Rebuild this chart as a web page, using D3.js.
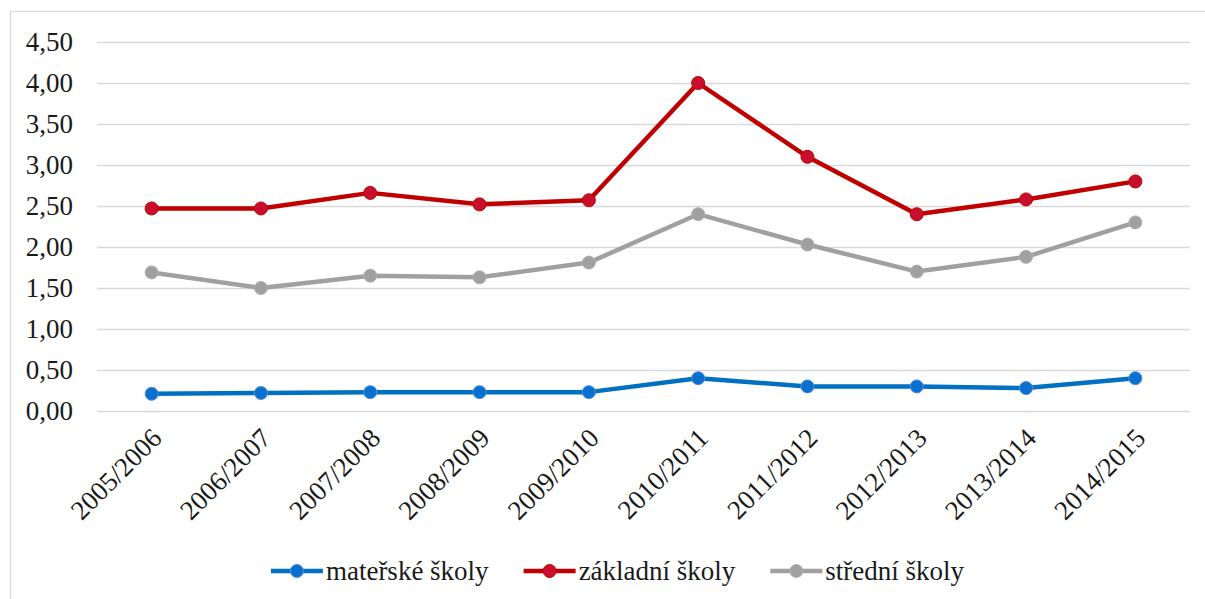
<!DOCTYPE html>
<html>
<head>
<meta charset="utf-8">
<script src="https://cdn.jsdelivr.net/npm/d3@7"></script>
</head>
<body style="margin:0;background:#fff;font-family:'Liberation Serif',serif">
<svg id="chart" style="display:block;font-family:'Liberation Serif',serif"></svg>
<script>
const years = ['2005/2006', '2006/2007', '2007/2008', '2008/2009', '2009/2010',
  '2010/2011', '2011/2012', '2012/2013', '2013/2014', '2014/2015'];
const materske = [0.21, 0.22, 0.23, 0.23, 0.23, 0.40, 0.30, 0.30, 0.28, 0.40];
const zakladni = [2.47, 2.47, 2.66, 2.52, 2.57, 4.00, 3.10, 2.40, 2.58, 2.80];
const stredni = [1.69, 1.50, 1.65, 1.63, 1.81, 2.40, 2.03, 1.70, 1.88, 2.30];
const yTicks = [0, 0.5, 1, 1.5, 2, 2.5, 3, 3.5, 4, 4.5];

const series = [
  { name: 'mateřské školy', values: materske, line: '#0070c0', fill: '#0a6fcf', stroke: '#4a8fd8' },
  { name: 'základní školy', values: zakladni, line: '#c00000', fill: '#c8102e', stroke: '#c00000' },
  { name: 'střední školy', values: stredni, line: '#a0a0a0', fill: '#a0a0a0', stroke: '#b0b0b0' }
];

const width = 1205, height = 599;
const margin = { left: 97, right: 15, top: 42, bottom: 188 };
const serif = "'Liberation Serif', serif";

const svg = d3.select('#chart').attr('width', width).attr('height', height);

// the reference legend label "mateřské školy" is about 163px wide;
// size the text so that whatever serif font is picked up matches that
const probe = svg.append('text').style('font-family', serif).attr('font-size', 26.7).text(series[0].name);
const probeW = probe.node().getComputedTextLength() || 163;
probe.remove();
const fontSize = Math.min(27, 26.7 * 163 / probeW);

// outer chart border
svg.append('rect')
  .attr('x', 10.5).attr('y', 11.5)
  .attr('width', width + 20).attr('height', height + 20)
  .attr('fill', 'none').attr('stroke', '#d9d9d9').attr('stroke-width', 1.3);

const x = d3.scaleBand().domain(years).range([margin.left, width - margin.right]);
const y = d3.scaleLinear().domain([0, 4.5]).range([height - margin.bottom, margin.top]);

const fmt = v => d3.format('.2f')(v).replace('.', ',');

// gridlines
svg.append('g')
  .attr('transform', `translate(${margin.left},0)`)
  .call(d3.axisLeft(y).tickValues(yTicks).tickSize(-(width - margin.left - margin.right)).tickFormat(''))
  .call(g => g.select('.domain').remove())
  .call(g => g.selectAll('line').attr('stroke', '#d9d9d9').attr('stroke-width', 1.3));

// y labels
svg.append('g')
  .attr('transform', `translate(${margin.left},0)`)
  .call(d3.axisLeft(y).tickValues(yTicks).tickSize(0).tickPadding(24).tickFormat(fmt))
  .attr('font-family', null)
  .call(g => g.select('.domain').remove())
  .call(g => g.selectAll('text')
    .style('font-family', serif)
    .attr('font-size', fontSize).attr('fill', '#1a1a1a'));

// x labels
svg.append('g')
  .attr('transform', `translate(0,${height - margin.bottom})`)
  .call(d3.axisBottom(x).tickSize(0).tickFormat(d => d))
  .attr('font-family', null)
  .call(g => g.select('.domain').remove())
  .call(g => g.selectAll('text')
    .style('font-family', serif)
    .attr('font-size', fontSize).attr('fill', '#1a1a1a')
    .attr('text-anchor', 'end')
    .attr('dy', '0.35em')
    .attr('y', 0)
    .attr('transform', 'translate(5,22) rotate(-45)'));

const line = d3.line()
  .x((d, i) => x(years[i]) + x.bandwidth() / 2)
  .y(d => y(d));

series.forEach(s => {
  svg.append('path')
    .datum(s.values)
    .attr('d', line)
    .attr('fill', 'none')
    .attr('stroke', s.line)
    .attr('stroke-width', 4.5)
    .attr('stroke-linejoin', 'round');

  svg.append('g')
    .selectAll('circle')
    .data(s.values)
    .join('circle')
    .attr('cx', (d, i) => x(years[i]) + x.bandwidth() / 2)
    .attr('cy', d => y(d))
    .attr('r', 6.5)
    .attr('fill', s.fill)
    .attr('stroke', s.stroke)
    .attr('stroke-width', 1);
});

// legend, laid out from the measured label widths and centred
const legendY = 571;
const swatch = 52, gapText = 3, gapItem = 35;
const legend = svg.append('g');
let cursor = 0;
series.forEach(s => {
  const g = legend.append('g').attr('transform', `translate(${cursor},${legendY})`);
  g.append('line')
    .attr('x1', 0).attr('x2', swatch).attr('y1', 0).attr('y2', 0)
    .attr('stroke', s.line).attr('stroke-width', 4.5);
  g.append('circle')
    .attr('cx', swatch / 2).attr('cy', 0).attr('r', 6.5)
    .attr('fill', s.fill).attr('stroke', s.stroke).attr('stroke-width', 1);
  const t = g.append('text')
    .attr('x', swatch + gapText).attr('y', 0).attr('dy', '0.35em')
    .style('font-family', serif)
    .attr('font-size', fontSize).attr('fill', '#1a1a1a')
    .text(s.name);
  cursor += swatch + gapText + t.node().getComputedTextLength() + gapItem;
});
const legendW = cursor - gapItem;
legend.attr('transform', `translate(${617.5 - legendW / 2},0)`);
</script>
</body>
</html>
